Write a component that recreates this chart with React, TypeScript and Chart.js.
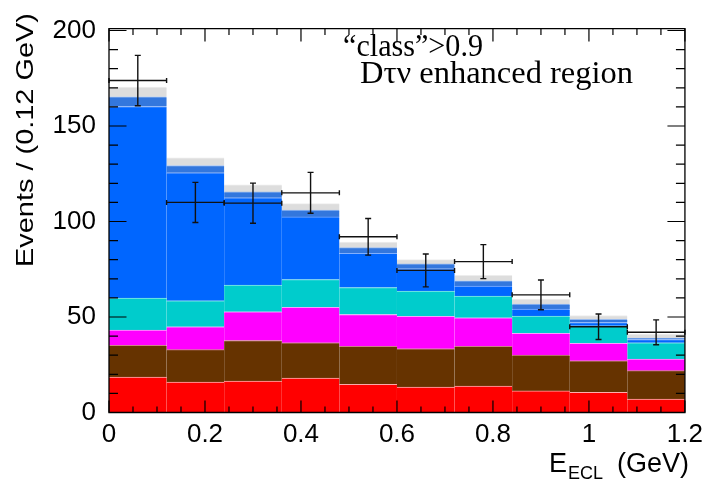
import React, { useEffect, useRef } from "react";
import { Chart, registerables } from "chart.js";

Chart.register(...registerables);

// Bin centres (GeV), bin width 0.12
const binCenters = [0.06, 0.18, 0.3, 0.42, 0.54, 0.66, 0.78, 0.9, 1.02, 1.14];
const binHalfWidth = 0.06;

// Stacked MC components (bottom to top)
const redComp = [18.6, 15.9, 16.4, 18.0, 14.7, 13.3, 13.8, 11.3, 10.6, 7.0];
const brownComp = [16.6, 17.0, 21.3, 18.5, 19.9, 20.1, 20.8, 18.7, 16.5, 14.9];
const magentaComp = [7.9, 12.0, 15.0, 18.5, 16.7, 16.9, 15.0, 11.5, 9.1, 6.1];
const cyanComp = [16.8, 13.6, 14.0, 14.6, 14.1, 13.3, 11.4, 9.0, 9.2, 8.5];
const blueComp = [100.3, 67.0, 45.7, 32.8, 18.0, 11.6, 5.2, 3.7, 1.7, 1.7];
const darkBlueComp = [5.1, 3.8, 3.1, 3.6, 2.9, 2.6, 2.8, 2.6, 1.7, 0.8];
const grayComp = [5.1, 4.1, 3.7, 3.4, 2.9, 2.2, 2.8, 2.6, 2.0, 2.1];

// Data points with errors
const dataValues = [173.8, 110.0, 109.6, 115.0, 92.0, 74.4, 79.0, 61.6, 44.9, 42.0];
const dataErrors = [13.2, 10.5, 10.5, 10.7, 9.6, 8.6, 8.9, 7.8, 6.7, 6.5];

// Axis settings
const xMin = 0;
const xMax = 1.2;
const xTickValues = [0, 0.2, 0.4, 0.6, 0.8, 1, 1.2];
const xTickLabels = ["0", "0.2", "0.4", "0.6", "0.8", "1", "1.2"];
const xMinorStep = 0.05;
const yMin = 0;
const yMax = 201;
const yTickValues = [0, 50, 100, 150, 200];
const yTickLabels = ["0", "50", "100", "150", "200"];
const yMinorStep = 10;

const yTitle = "Events / (0.12 GeV)";
const xTitleMain = "E";
const xTitleSub = "ECL";
const xTitleUnit = "(GeV)";
const annotLine1 = "\u201Cclass\u201D>0.9";
const annotLine2 = "D\u03C4\u03BD enhanced region";

const SANS = "'Liberation Sans', Arial, Helvetica, sans-serif";
const SERIF = "'Liberation Serif', 'Times New Roman', serif";

const errorBarPlugin = {
  id: "errorBars",
  afterDatasetsDraw(chart: any) {
    const { ctx } = chart;
    const xs = chart.scales.x;
    const ys = chart.scales.y;
    ctx.save();
    ctx.strokeStyle = "#111";
    ctx.lineWidth = 1.4;
    dataValues.forEach((v, i) => {
      const xc = xs.getPixelForValue(binCenters[i]);
      const xl = xs.getPixelForValue(binCenters[i] - binHalfWidth);
      const xr = xs.getPixelForValue(binCenters[i] + binHalfWidth);
      const yc = ys.getPixelForValue(v);
      const yt = ys.getPixelForValue(v + dataErrors[i]);
      const yb = ys.getPixelForValue(v - dataErrors[i]);
      ctx.beginPath();
      ctx.moveTo(xl, yc);
      ctx.lineTo(xr, yc);
      ctx.moveTo(xc, yt);
      ctx.lineTo(xc, yb);
      ctx.moveTo(xl, yc - 2.5);
      ctx.lineTo(xl, yc + 2.5);
      ctx.moveTo(xr, yc - 2.5);
      ctx.lineTo(xr, yc + 2.5);
      ctx.moveTo(xc - 3, yt);
      ctx.lineTo(xc + 3, yt);
      ctx.moveTo(xc - 3, yb);
      ctx.lineTo(xc + 3, yb);
      ctx.stroke();
    });
    ctx.restore();
  },
};

function fillFitted(ctx: any, text: string, x: number, y: number, width: number) {
  const w = ctx.measureText(text).width;
  ctx.save();
  ctx.translate(x, y);
  ctx.scale(width / w, 1);
  ctx.fillText(text, 0, 0);
  ctx.restore();
}

const framePlugin = {
  id: "frameTicks",
  afterDraw(chart: any) {
    const { ctx, chartArea: a } = chart;
    const xs = chart.scales.x;
    const ys = chart.scales.y;
    ctx.save();
    ctx.strokeStyle = "#000";
    ctx.lineWidth = 1.3;
    ctx.beginPath();
    ctx.rect(a.left, a.top, a.right - a.left, a.bottom - a.top);
    ctx.stroke();

    ctx.lineWidth = 1.2;
    ctx.beginPath();
    const nx = Math.round((xMax - xMin) / xMinorStep);
    for (let k = 0; k <= nx; k++) {
      const v = xMin + k * xMinorStep;
      const px = xs.getPixelForValue(v);
      const major = xTickValues.some((t) => Math.abs(t - v) < 1e-6);
      const lb = major ? 12 : 6;
      const lt = major ? 13 : 6.5;
      ctx.moveTo(px, a.bottom);
      ctx.lineTo(px, a.bottom - lb);
      ctx.moveTo(px, a.top);
      ctx.lineTo(px, a.top + lt);
    }
    const ny = Math.floor((yMax - yMin) / yMinorStep);
    for (let k = 0; k <= ny; k++) {
      const v = yMin + k * yMinorStep;
      const py = ys.getPixelForValue(v);
      const major = yTickValues.some((t) => Math.abs(t - v) < 1e-6);
      const l = major ? 17.5 : 9;
      ctx.moveTo(a.left, py);
      ctx.lineTo(a.left + l, py);
      ctx.moveTo(a.right, py);
      ctx.lineTo(a.right - l, py);
    }
    ctx.stroke();

    ctx.fillStyle = "#000";
    ctx.save();
    ctx.font = `24px ${SANS}`;
    const w = ctx.measureText(yTitle).width;
    const targetLen = 254;
    ctx.translate(33, 140);
    ctx.rotate(-Math.PI / 2);
    ctx.scale(targetLen / w, 1);
    ctx.textAlign = "center";
    ctx.textBaseline = "alphabetic";
    ctx.fillText(yTitle, 0, 0);
    ctx.restore();

    ctx.textBaseline = "alphabetic";
    ctx.textAlign = "left";
    ctx.font = `27px ${SANS}`;
    ctx.fillText(xTitleMain, 549, 472);
    const eW = ctx.measureText(xTitleMain).width;
    ctx.font = `18px ${SANS}`;
    ctx.fillText(xTitleSub, 549 + eW + 1, 479);
    ctx.font = `27px ${SANS}`;
    ctx.textAlign = "right";
    ctx.fillText(xTitleUnit, 689, 472);

    ctx.textAlign = "left";
    ctx.font = `31px ${SERIF}`;
    fillFitted(ctx, annotLine1, 343, 56, 140);
    fillFitted(ctx, annotLine2, 360, 83, 273);
    ctx.restore();
  },
};

function makeBar(label: string, values: number[], color: string, edge: string) {
  return {
    type: "bar" as const,
    label,
    data: values.map((v, i) => ({ x: binCenters[i], y: v })),
    backgroundColor: color,
    borderColor: edge,
    borderWidth: { top: 1, left: 0, right: 0, bottom: 0 },
    borderSkipped: false,
    barPercentage: 1,
    categoryPercentage: 1,
    stack: "mc",
    order: 2,
  };
}

export default function App() {
  const canvasRef = useRef<HTMLCanvasElement | null>(null);

  useEffect(() => {
    const canvas = canvasRef.current;
    if (!canvas) return;
    const chart = new Chart(canvas, {
      type: "bar",
      data: {
        datasets: [
          makeBar("red", redComp, "#ff0000", "rgba(255,170,170,0.9)"),
          makeBar("brown", brownComp, "#663300", "rgba(200,120,120,0.9)"),
          makeBar("magenta", magentaComp, "#ff00ff", "rgba(255,150,255,0.9)"),
          makeBar("cyan", cyanComp, "#00cccc", "rgba(120,230,230,0.9)"),
          makeBar("blue", blueComp, "#0066ff", "rgba(120,170,255,0.9)"),
          makeBar("darkblue", darkBlueComp, "#3377dd", "rgba(140,180,240,0.9)"),
          makeBar("gray", grayComp, "#dddddd", "rgba(235,235,235,0.9)"),
          {
            type: "scatter" as const,
            label: "data",
            data: dataValues.map((v, i) => ({ x: binCenters[i], y: v })),
            pointRadius: 0,
            showLine: false,
            stack: "data",
            order: 0,
          } as any,
        ],
      },
      options: {
        animation: false,
        responsive: false,
        maintainAspectRatio: false,
        layout: { padding: { top: 19, right: 22, left: 0, bottom: 0 } },
        plugins: {
          legend: { display: false },
          tooltip: { enabled: false },
          title: { display: false },
        },
        scales: {
          x: {
            type: "linear",
            min: xMin,
            max: xMax,
            stacked: true,
            offset: false,
            grid: { display: false, drawTicks: false, offset: false },
            border: { display: false },
            afterBuildTicks: (s: any) => {
              s.ticks = xTickValues.map((v) => ({ value: v }));
            },
            ticks: {
              color: "#000",
              font: { family: SANS, size: 26 },
              padding: 7,
              maxRotation: 0,
              autoSkip: false,
              callback: (_v: any, i: number) => xTickLabels[i],
            },
            afterFit: (s: any) => {
              s.height = 68.5;
            },
          },
          y: {
            type: "linear",
            min: yMin,
            max: yMax,
            stacked: true,
            grid: { display: false, drawTicks: false },
            border: { display: false },
            afterBuildTicks: (s: any) => {
              s.ticks = yTickValues.map((v) => ({ value: v }));
            },
            ticks: {
              color: "#000",
              font: { family: SANS, size: 26 },
              padding: 13,
              autoSkip: false,
              callback: (_v: any, i: number) => yTickLabels[i],
            },
            afterFit: (s: any) => {
              s.width = 109;
            },
          },
        },
      } as any,
      plugins: [errorBarPlugin, framePlugin],
    });
    return () => chart.destroy();
  }, []);

  return (
    <div style={{ position: "fixed", left: 0, top: 0, width: 710, height: 481, background: "#fff" }}>
      <canvas ref={canvasRef} width={710} height={481} />
    </div>
  );
}
